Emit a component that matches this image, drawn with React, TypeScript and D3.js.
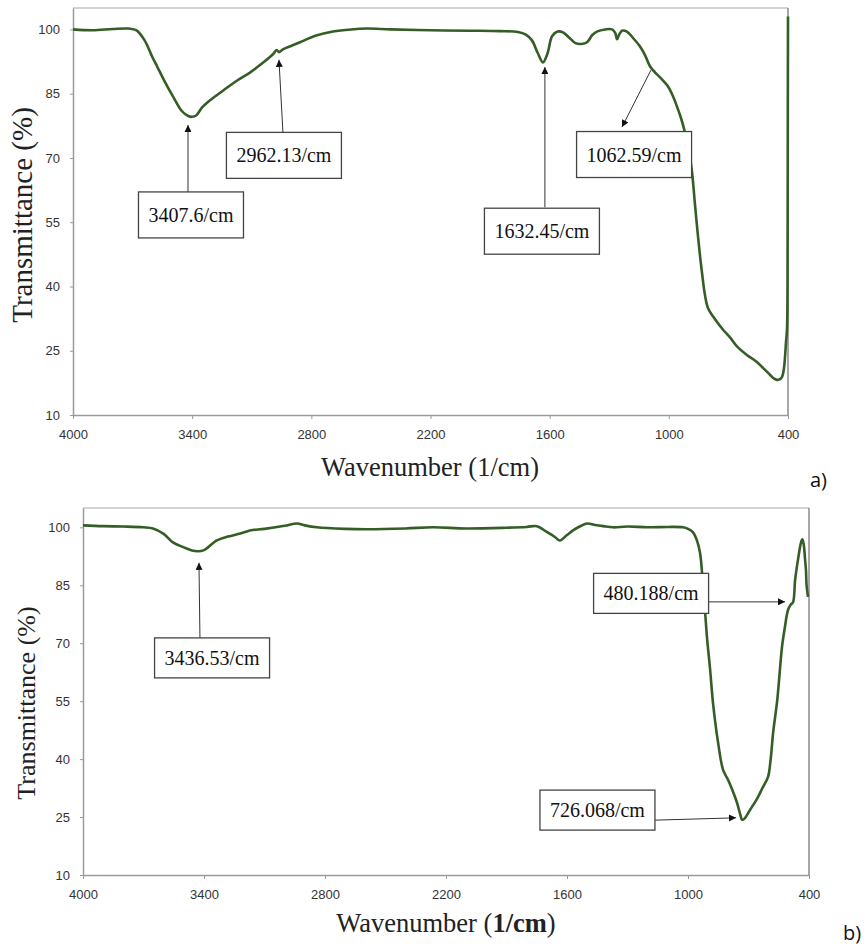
import React, { useEffect, useRef } from "react";
import * as d3 from "d3";

const xTicks = [4000, 3400, 2800, 2200, 1600, 1000, 400];
const yTicks = [10, 25, 40, 55, 70, 85, 100];

// a) spectrum, wavenumber (1/cm) and transmittance (%)
const waveA = [4000, 3900, 3800, 3720, 3680, 3640, 3600, 3577, 3540, 3496, 3451, 3420, 3400, 3380, 3350, 3325, 3280, 3225, 3170, 3109, 3050, 2993, 2975, 2962, 2945, 2900, 2857, 2780, 2691, 2600, 2520, 2400, 2200, 2000, 1850, 1760, 1720, 1690, 1660, 1634, 1610, 1588, 1560, 1533, 1500, 1470, 1440, 1412, 1385, 1362, 1320, 1286, 1270, 1261, 1250, 1236, 1211, 1180, 1145, 1120, 1095, 1070, 1044, 1004, 980, 959, 940, 919, 900, 883, 870, 858, 845, 833, 818, 803, 770, 727, 690, 657, 607, 560, 526, 495, 476, 456, 440, 430, 420, 415, 410, 405, 402, 401, 400];
const transA = [100, 99.8, 100.1, 100.2, 99.8, 97.5, 93.5, 91.4, 88, 84.3, 80.9, 79.8, 79.6, 79.9, 81.8, 82.9, 84.5, 86.4, 88.2, 89.9, 92, 94.2, 95.2, 94.7, 95.3, 96.2, 97, 98.5, 99.5, 100, 100.2, 100, 99.8, 99.7, 99.6, 99.4, 98.8, 97.5, 94.5, 92.3, 94.5, 98.4, 99.5, 99.3, 98, 96.8, 96.6, 97, 98.7, 99.5, 100, 100, 99.2, 97.7, 98.8, 99.7, 99.5, 98, 96, 94, 91.4, 90, 88.8, 86.7, 84.5, 82, 79.5, 76, 72, 66.6, 60, 54, 48, 43.2, 38, 35, 32.5, 29.9, 28, 26, 24, 22.5, 21, 19.6, 18.7, 18.2, 18.4, 18.9, 21, 23.6, 27, 30, 50, 80, 103];

// b) spectrum
const waveB = [4000, 3900, 3800, 3700, 3653, 3600, 3554, 3500, 3460, 3430, 3400, 3385, 3336, 3280, 3220, 3172, 3100, 3000, 2939, 2900, 2840, 2700, 2592, 2400, 2264, 2100, 1900, 1800, 1749, 1700, 1660, 1635, 1600, 1570, 1530, 1501, 1460, 1420, 1372, 1300, 1200, 1100, 1025, 1000, 975, 955, 940, 925, 915, 906, 890, 876, 850, 826, 801, 780, 757, 740, 732, 720, 692, 660, 628, 603, 590, 578, 558, 546, 534, 520, 504, 490, 479, 469, 455, 440, 433, 426, 420, 415, 412, 405];
const transB = [100.5, 100.3, 100.2, 100, 99.7, 98.3, 96.1, 94.8, 94, 93.8, 94.1, 94.6, 96.6, 97.6, 98.4, 99.2, 99.6, 100.4, 101, 100.5, 100, 99.6, 99.5, 99.7, 100, 99.7, 99.9, 100.1, 100.3, 98.8, 97.5, 96.6, 98, 99.2, 100.4, 101, 100.6, 100.3, 100, 100.2, 100, 100.1, 100, 99.6, 98.7, 96.5, 93.3, 84.5, 78, 71.6, 63, 54.5, 44, 37.2, 34.6, 32, 28.7, 25.5, 24.3, 24.6, 26.9, 29.5, 32.8, 35.4, 40, 46.8, 55, 62, 69, 74, 78.6, 80, 80.6, 86.3, 91.5, 96, 96.9, 95.5, 92, 88.9, 85, 82];

// peak call-outs: box centre, arrow tail and arrow tip, all in data units
const peaksA = [
  { label: "3407.6/cm", box: [3406, 56.7], tail: [3421, 62], tip: [3421, 77.7] },
  { label: "2962.13/cm", box: [2938, 70.6], tail: [2943, 76], tip: [2963, 92.9] },
  { label: "1632.45/cm", box: [1639, 52.9], tail: [1624, 58.5], tip: [1624, 91.2] },
  { label: "1062.59/cm", box: [1175, 70.8], tail: [1090, 90.5], tip: [1236, 77.2] },
];
const peaksB = [
  { label: "3436.53/cm", box: [3360, 66.2], tail: [3420, 71.3], tip: [3425, 90.8] },
  { label: "480.188/cm", box: [1183, 82.9], tail: [896, 80.7], tip: [519, 80.7] },
  { label: "726.068/cm", box: [1449, 26.8], tail: [1163, 24.2], tip: [762, 24.8] },
];

const serif = "'Liberation Serif', 'Times New Roman', serif";
const sans = "'Liberation Sans', Arial, sans-serif";

function drawPanel(svg, o) {
  const g = svg.append("g");
  const x = d3.scaleLinear().domain([4000, 400]).range([o.left, o.right]);
  const y = d3.scaleLinear().domain([10, 105]).range([o.bottom, o.top]);

  // frame
  g.append("line").attr("x1", o.left).attr("x2", o.right).attr("y1", o.top).attr("y2", o.top)
    .attr("stroke", "#c4c4c4").attr("stroke-width", 1.5);
  g.append("line").attr("x1", o.right).attr("x2", o.right).attr("y1", o.top).attr("y2", o.bottom)
    .attr("stroke", "#8a8a8a").attr("stroke-width", 1.5);

  const xAxis = g.append("g")
    .attr("transform", `translate(0,${o.bottom})`)
    .call(d3.axisBottom(x).tickValues(xTicks).tickFormat(d3.format("d")).tickSize(4).tickSizeOuter(0).tickPadding(11));
  const yAxis = g.append("g")
    .attr("transform", `translate(${o.left},0)`)
    .call(d3.axisLeft(y).tickValues(yTicks).tickFormat(d3.format("d")).tickSize(3).tickSizeOuter(0).tickPadding(10));

  [xAxis, yAxis].forEach((a) => {
    a.select(".domain").attr("stroke", "#9a9a9a").attr("stroke-width", 1.5);
    a.selectAll(".tick line").attr("stroke", "#9a9a9a");
    a.selectAll(".tick text").attr("fill", "#333").style("font-family", sans).style("font-size", "13px");
  });

  const pts = o.wave.map((w, i) => [w, o.trans[i]]);
  const line = d3.line().x((d) => x(d[0])).y((d) => y(d[1])).curve(d3.curveCatmullRom.alpha(0.5));
  g.append("path").datum(pts)
    .attr("d", line)
    .attr("fill", "none")
    .attr("stroke", "#345e26")
    .attr("stroke-width", 2.6)
    .attr("stroke-linejoin", "round");

  // call-outs
  o.peaks.forEach((p) => {
    g.append("line")
      .attr("x1", x(p.tail[0])).attr("y1", y(p.tail[1]))
      .attr("x2", x(p.tip[0])).attr("y2", y(p.tip[1]))
      .attr("stroke", "#333").attr("stroke-width", 1)
      .attr("marker-end", "url(#arrowhead)");

    const cx = x(p.box[0]), cy = y(p.box[1]);
    const rect = g.append("rect").attr("fill", "white").attr("stroke", "#444").attr("stroke-width", 1.3);
    const t = g.append("text")
      .attr("x", cx).attr("y", cy)
      .attr("text-anchor", "middle").attr("dominant-baseline", "central")
      .style("font-family", serif).style("font-size", "20px").attr("fill", "#111")
      .text(p.label);
    const tw = t.node().getComputedTextLength();
    const bw = tw + 20;
    rect.attr("x", cx - bw / 2).attr("y", cy - o.boxH / 2).attr("width", bw).attr("height", o.boxH);
  });

  // axis titles
  svg.append("text")
    .attr("transform", `translate(${o.yLabelX},${o.yLabelY}) rotate(-90)`)
    .attr("text-anchor", "middle").attr("dominant-baseline", "central")
    .style("font-family", serif).style("font-size", o.yLabelSize + "px").attr("fill", "#222")
    .text("Transmittance (%)");

  const xl = svg.append("text")
    .attr("x", o.xLabelX).attr("y", o.xLabelY)
    .attr("text-anchor", "middle")
    .style("font-family", serif).style("font-size", "26.5px").attr("fill", "#222");
  xl.append("tspan").text("Wavenumber (");
  xl.append("tspan").attr("font-weight", o.boldUnit ? "bold" : "normal").text("1/cm");
  xl.append("tspan").text(")");

  svg.append("text")
    .attr("x", o.tagX).attr("y", o.tagY)
    .style("font-family", "'Open Sans', sans-serif").style("font-size", "20px").attr("fill", "#111")
    .text(o.tag);
}

export default function App() {
  const ref = useRef(null);

  useEffect(() => {
    const svg = d3.select(ref.current);
    svg.selectAll("*").remove();

    svg.append("defs").append("marker")
      .attr("id", "arrowhead")
      .attr("viewBox", "0 0 10 10")
      .attr("refX", 10).attr("refY", 5)
      .attr("markerWidth", 8).attr("markerHeight", 7)
      .attr("markerUnits", "userSpaceOnUse")
      .attr("orient", "auto")
      .append("path").attr("d", "M0,0 L10,5 L0,10 z").attr("fill", "#111");

    svg.append("rect").attr("width", 867).attr("height", 950).attr("fill", "white");

    drawPanel(svg, {
      left: 73, right: 788, top: 8, bottom: 415,
      wave: waveA, trans: transA, peaks: peaksA, boxH: 46,
      yLabelX: 22, yLabelY: 215, yLabelSize: 29,
      xLabelX: 430, xLabelY: 476, boldUnit: false,
      tag: "a)", tagX: 810, tagY: 487,
    });
    drawPanel(svg, {
      left: 83, right: 809, top: 508, bottom: 875,
      wave: waveB, trans: transB, peaks: peaksB, boxH: 40,
      yLabelX: 26, yLabelY: 703, yLabelSize: 26,
      xLabelX: 446, xLabelY: 932, boldUnit: true,
      tag: "b)", tagX: 843, tagY: 940,
    });
  }, []);

  return (
    <div style={{ position: "absolute", left: 0, top: 0 }}>
      <svg ref={ref} width={867} height={950} style={{ display: "block" }} />
    </div>
  );
}
